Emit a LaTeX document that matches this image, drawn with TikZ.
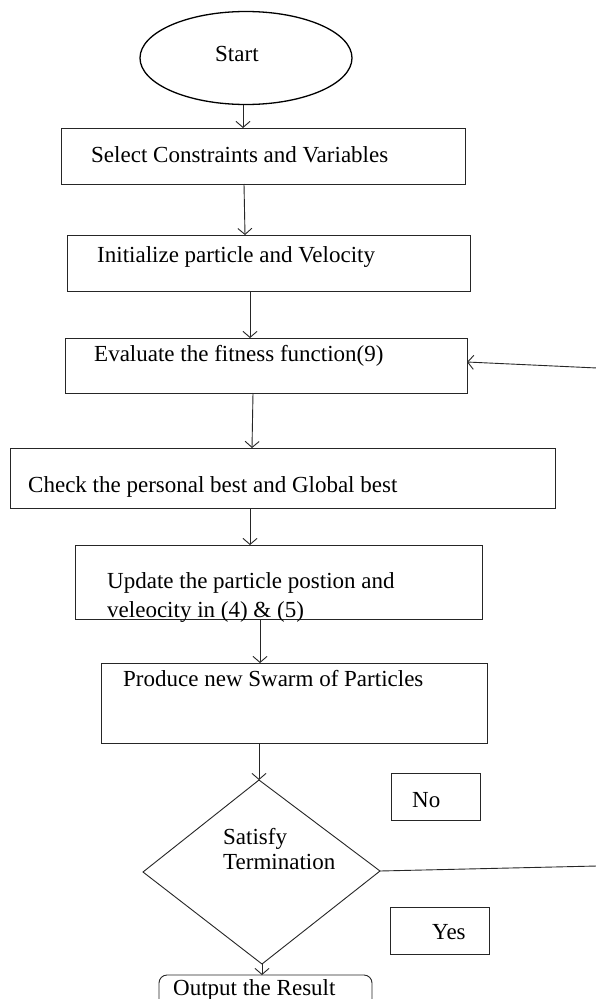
\documentclass[tikz,border=0pt]{standalone}
\usepackage{fontspec}
\setmainfont{Liberation Serif}
\usetikzlibrary{shapes.geometric,arrows.meta}
\begin{document}
\begin{tikzpicture}[x=1pt,y=-1pt,
  box/.style={draw=black!85,line width=0.9pt,inner sep=0pt,anchor=north west},
  txt/.style={anchor=base west,inner sep=0pt,font=\fontsize{23}{27}\selectfont},
  arr/.style={draw=black!85,line width=0.9pt,-{Straight Barb[length=6pt,width=14pt,line width=0.9pt]}},
  ln/.style={draw=black!85,line width=0.9pt}]
\fill[white] (0,0) rectangle (596,999);
\useasboundingbox (0,0) rectangle (596,999);
\clip (0,0) rectangle (596,999);
% start
\node[draw=black,line width=1.3pt,ellipse,minimum width=212pt,minimum height=93pt,inner sep=0pt] (start) at (246,58) {};
\node[txt] (tstart) at (215,61) {Start};
% boxes
\node[box,minimum width=404pt,minimum height=56pt] (b1) at (61,128) {};
\node[txt] (t1) at (91,162) {Select Constraints and Variables};
\node[box,minimum width=403pt,minimum height=56pt] (b2) at (67,235) {};
\node[txt] (t2) at (97,262) {Initialize particle and Velocity};
\node[box,minimum width=402pt,minimum height=55pt] (b3) at (65,338) {};
\node[txt] (t3) at (94,361) {Evaluate the fitness function(9)};
\node[box,minimum width=545pt,minimum height=60pt] (b4) at (10,448) {};
\node[txt] (t4) at (28,492) {Check the personal best and Global best};
\node[box,minimum width=407pt,minimum height=74pt] (b5) at (75,545) {};
\node[txt] (t5a) at (107,588) {Update the particle postion and};
\node[txt] (t5b) at (107,617) {veleocity in (4) \& (5)};
\node[box,minimum width=386pt,minimum height=80pt] (b6) at (101,663) {};
\node[txt] (t6) at (123,686) {Produce new Swarm of Particles};
% diamond
\coordinate (dt) at (259,780);
\coordinate (dr) at (380,871);
\coordinate (db) at (262,964);
\coordinate (dl) at (143,872);
\draw[ln] (dt) -- (dr) -- (db) -- (dl) -- cycle;
\node[txt] (td1) at (223,844) {Satisfy};
\node[txt] (td2) at (223,869) {Termination};
% no / yes
\node[box,minimum width=89pt,minimum height=47pt] (no) at (391,773) {};
\node[txt] (tno) at (412,807) {No};
\node[box,minimum width=99pt,minimum height=47pt] (yes) at (390,907) {};
\node[txt] (tyes) at (432,939) {Yes};
% output
\draw[ln,rounded corners=8pt] (159,1010) -- (159,975) -- (372,975) -- (372,1010);
\coordinate (outtop) at (262,975);
\node[txt] (tout) at (173,995) {Output the Result};
% arrows
\coordinate (a1) at (243,105); \coordinate (a1e) at (243,128);
\draw[arr] (a1) -- (a1e);
\coordinate (a2) at (244,184); \coordinate (a2e) at (245,235);
\draw[arr] (a2) -- (a2e);
\coordinate (a3) at (250,291); \coordinate (a3e) at (250,338);
\draw[arr] (a3) -- (a3e);
\coordinate (a4) at (253,393); \coordinate (a4e) at (252,448);
\draw[arr] (a4) -- (a4e);
\coordinate (a5) at (250,508); \coordinate (a5e) at (250,545);
\draw[arr] (a5) -- (a5e);
\coordinate (a6) at (260,619); \coordinate (a6e) at (260,663);
\draw[arr] (a6) -- (a6e);
\coordinate (a7) at (259,743);
\draw[arr] (a7) -- (dt);
\draw[arr] (db) -- (outtop);
\coordinate (fbs) at (597,368); \coordinate (fbe) at (467,362);
\draw[arr] (fbs) -- (fbe);
\coordinate (nos) at (597,866);
\draw[ln] (dr) -- (nos);
\end{tikzpicture}
\end{document}
